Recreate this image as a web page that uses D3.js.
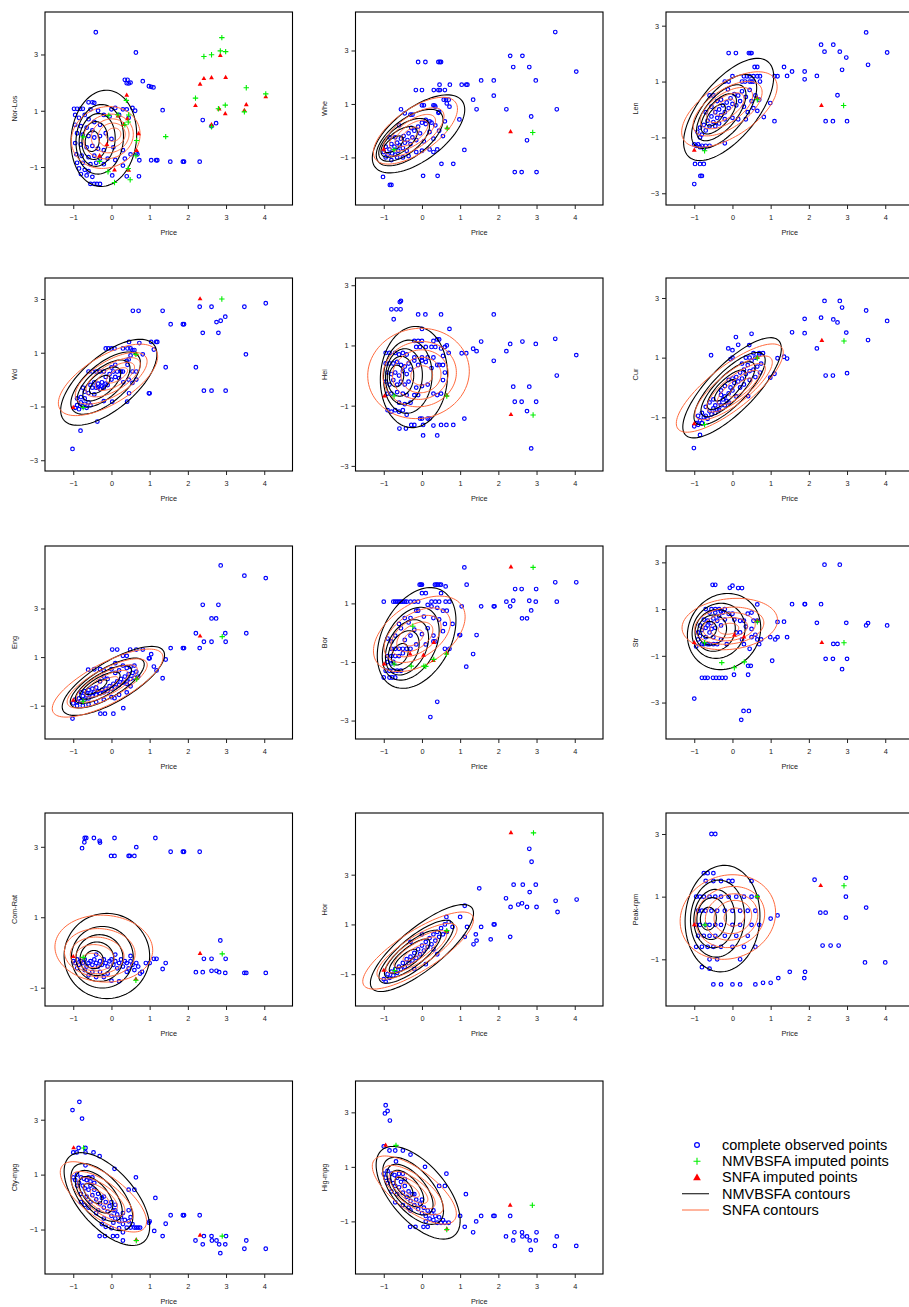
<!DOCTYPE html>
<html>
<head>
<meta charset="utf-8">
<script src="https://cdn.jsdelivr.net/npm/d3@7"></script>
<style>
  body { margin: 0; background: #fff; }
  svg text { font-family: "Liberation Sans", Arial, Helvetica, sans-serif; }
</style>
</head>
<body>
<svg id="chart" width="909" height="1307"></svg>
<script>
// ---- shared axis values ----
const xTicks = [-1, 0, 1, 2, 3, 4];
const yTickCandidates = [-3, -1, 1, 3];
const xLimit = [-1.74, 4.74];
// contour levels as fractions of peak density
const contourLevels = [0.1, 0.3, 0.5, 0.7, 0.9];

const panelNames = ["Nor-Los", "Whe", "Len", "Wd", "Hei", "Cur", "Eng", "Bor", "Str",
                    "Com-Rat", "Hor", "Peak-rpm", "Cty-mpg", "Hig-mpg"];
const yLimits = [[-2.35, 4.51], [-2.78, 4.44], [-3.42, 3.49], [-3.40, 3.78], [-3.17, 3.24],
                 [-2.8, 3.67], [-2.37, 5.57], [-3.63, 2.96], [-4.56, 3.70], [-1.52, 3.96],
                 [-2.28, 5.48], [-2.49, 3.67], [-2.62, 4.41], [-2.93, 4.15]];

// ---- Nor-Los ----
const obsNorLos = [[-0.41,3.79],[0.64,3.07],[0.35,2.1],[0.42,2.1],[0.4,1.98],[0.5,2.0],[0.45,1.97],[0.82,2.05],
  [0.98,1.87],[1.04,1.85],[1.1,1.83],[1.34,1.02],[2.39,0.67],[2.74,0.56],[2.62,0.45],
  [0.73,-0.76],[1.04,-0.76],[1.17,-0.76],[1.2,-0.76],[1.54,-0.81],[1.87,-0.81],[1.9,-0.81],[2.31,-0.81],
  [0.4,-1.33],[0.72,-1.33],[0.02,-1.3],[-0.55,-1.6],[-0.45,-1.6],[-0.38,-1.6],[-0.3,-1.6],
  [-0.98,1.07],[-0.9,1.07],[-0.82,1.07],[-0.75,1.07],[-0.6,1.3],[-0.5,1.3],[-0.45,1.28],[-0.55,1.05],[-0.35,1.0],
  [0.0,1.05],[0.1,1.1],[0.3,1.05],[0.4,1.05],[0.55,1.1],[0.62,1.0],[0.45,0.75],[0.2,0.85],[-0.2,0.85],[-0.05,0.8],
  [-0.95,0.85],[-0.85,0.75],[-0.7,0.85],[-0.6,0.7],[-0.45,0.6],[-0.3,0.5],[-0.95,0.5],[-0.8,0.45],[-0.65,0.4],[-0.5,0.3],
  [-0.9,0.2],[-0.75,0.15],[-0.6,0.1],[-0.45,0.05],[-0.3,0.1],[-0.15,0.2],[0.0,0.0],
  [-0.95,-0.15],[-0.8,-0.2],[-0.65,-0.3],[-0.5,-0.25],[-0.35,-0.35],[-0.2,-0.4],[0.05,-0.3],[0.3,-0.4],[0.5,-0.55],[0.65,-0.5],[0.68,-0.55],
  [-0.92,-0.55],[-0.78,-0.6],[-0.6,-0.65],[-0.45,-0.6],[-0.3,-0.7],[-0.1,-0.7],[0.1,-0.75],[0.35,-0.7],
  [-0.9,-0.85],[-0.75,-0.85],[-0.55,-0.9],[-0.4,-0.85],[-0.2,-0.9],[0.3,-0.95],
  [-0.85,-1.05],[-0.7,-1.1],[-0.6,-1.15],[-0.8,-1.25],[-0.65,-1.3],[-0.5,-1.35]];
const nmvNorLos = [[2.89,3.6],[2.62,2.99],[2.42,2.93],[2.85,3.13],[2.99,3.1],[3.53,1.82],[4.04,1.6],[2.2,1.45],
  [2.8,1.07],[2.98,1.2],[3.48,0.96],[2.62,0.43],[1.42,0.08],[-0.74,0.07],[0.17,0.86],[0.45,0.85],[0.44,0.6],
  [0.35,0.5],[0.66,-0.06],[0.64,-0.6],[-0.31,-0.8],[0.44,-1.05],[-0.09,-1.17],[0.08,-1.55],[0.49,-1.45],
  [-0.07,0.83],[0.39,1.37]];
const snNorLos = [[2.85,2.96],[2.42,2.14],[2.62,2.17],[2.99,2.18],[2.32,1.94],[4.04,1.49],[2.2,1.18],[2.82,1.06],
  [3.53,1.21],[3.48,1.01],[2.98,0.89],[2.62,0.5],[0.4,1.55],[0.42,0.71],[0.32,0.51],[0.71,0.18],[-0.12,-0.2],
  [-0.31,-0.6],[0.66,-0.42],[0.45,-1.12],[0.08,-1.11],[0.17,0.81]];

// ---- Whe ----
const obsWhe = [[3.49,3.69],[4.04,2.21],[2.31,2.8],[2.63,2.8],[2.39,2.38],[2.81,2.38],[2.98,1.88],[1.88,1.88],
  [1.55,1.88],[1.88,1.31],[1.34,1.16],[1.43,0.8],[2.21,0.8],[3.53,0.8],[2.86,0.53],[2.75,-0.36],[2.43,-1.55],
  [2.61,-1.55],[3.0,-1.55],[1.11,-0.72],[0.51,-1.24],[0.82,-1.24],[0.03,-1.69],[0.41,-1.69],[-1.02,-1.73],
  [-0.84,-2.03],[-0.8,-2.03],[-0.1,2.57],[0.09,2.57],[0.43,2.57],[0.47,2.57],[0.5,2.57],[0.46,1.72],[0.73,1.72],
  [1.04,1.72],[1.16,1.72],[1.19,1.72],[-0.16,1.52],[0.0,1.52],[0.31,1.52],[0.43,1.52],[0.47,1.52],[0.6,1.52],
  [0.57,1.16],[0.63,1.16],[0.65,1.02],[0.72,0.9],[0.7,1.16],[0.33,0.94],[0.43,0.67],[0.98,0.42],
  [-1.0,-0.8],[-0.95,-0.6],[-0.9,-0.9],[-0.85,-0.7],[-0.8,-0.5],[-0.78,-0.85],[-0.72,-0.6],[-0.7,-0.9],[-0.65,-0.45],
  [-0.62,-0.75],[-0.58,-0.55],[-0.55,-0.3],[-0.5,-0.65],[-0.48,-0.2],[-0.45,-0.45],[-0.4,-0.75],[-0.38,-0.35],
  [-0.35,-0.1],[-0.3,-0.5],[-0.28,0.1],[-0.25,-0.25],[-0.2,0.0],[-0.15,-0.35],[-0.1,0.15],[-0.05,-0.1],[0.0,0.3],
  [0.05,-0.4],[0.1,0.25],[0.2,-0.05],[0.25,0.3],[0.3,-0.3],[0.35,0.2],[0.4,-0.7],[0.45,0.0],[0.55,-0.2],[0.6,0.35],
  [-0.55,0.8],[-0.45,0.65],[-0.3,0.6],[-0.25,0.6],[-0.6,0.2],[-0.85,-0.25],[-0.95,-1.0],[-0.8,-1.1],[-0.65,-1.0],
  [-0.5,-1.0],[-0.35,-0.95],[-0.15,-0.8],[0.0,-0.75],[0.2,-0.7],[0.3,-0.8],[0.0,0.95],[0.05,0.95],[0.3,0.95],
  [0.35,0.9],[0.45,0.7],[0.2,0.35],[0.1,0.4],[-0.7,-0.25]];
const nmvWhe = [[2.9,-0.07],[0.66,0.09],[-0.73,-0.71]];
const snWhe = [[2.32,-0.04],[-1.0,-0.7],[0.66,0.1]];

// ---- Len ----
const obsLen = [[3.5,2.76],[4.05,2.04],[2.32,2.32],[2.64,2.32],[2.41,2.07],[2.81,2.07],[2.98,1.86],[3.55,1.6],
  [2.87,1.42],[1.35,1.52],[1.56,1.36],[1.89,1.36],[1.89,1.08],[2.21,1.2],[1.43,1.2],[1.1,1.19],[1.18,1.19],
  [2.75,0.51],[2.44,-0.42],[2.63,-0.42],[3.0,-0.42],[1.1,-0.42],[0.82,-0.27],[0.99,0.23],
  [-1.0,-2.67],[-0.84,-2.38],[-0.8,-2.38],[-0.98,-1.95],[-0.85,-1.95],[-0.75,-1.95],
  [-0.1,2.02],[0.09,2.02],[0.43,2.02],[0.47,2.02],[0.5,2.02],[0.58,1.52],[0.65,1.52],
  [0.0,1.19],[0.3,1.19],[0.38,1.19],[0.45,1.19],[0.55,1.19],[0.65,1.19],[0.72,1.19],
  [-0.2,1.0],[-0.1,1.0],[0.25,1.0],[0.33,1.0],[0.45,1.0],[0.5,1.0],[0.55,1.0],[0.72,1.0],[-0.12,0.72],[-0.2,-1.21],
  [-1.0,-1.25],[-0.95,-1.3],[-0.9,-1.25],[-0.85,-1.35],[-0.8,-1.3],[-0.75,-1.4],[-0.7,-1.3],[-0.6,-1.3],
  [-0.92,-0.8],[-0.85,-0.65],[-0.8,-0.9],[-0.75,-0.55],[-0.7,-0.75],[-0.65,-0.4],[-0.6,-0.6],[-0.55,-0.25],
  [-0.5,-0.45],[-0.45,-0.1],[-0.4,-0.3],[-0.35,0.0],[-0.3,-0.2],[-0.25,0.15],[-0.2,-0.1],[-0.15,0.25],[-0.1,0.05],
  [-0.05,0.4],[0.0,0.2],[0.05,0.55],[0.1,0.15],[0.15,0.5],[0.2,0.3],[0.25,0.65],[0.3,0.1],[0.35,0.45],[0.4,-0.1],
  [0.45,0.7],[0.5,0.3],[0.55,0.05],[0.6,0.5],[0.65,-0.05],[0.7,0.35],[-0.6,0.5],[-0.5,0.5],[-0.55,0.1],[-0.4,0.3],
  [-0.3,0.35],[-0.7,-0.1],[-0.45,-0.6],[-0.35,-0.5],[-0.2,-0.35],[0.0,-0.3],[0.15,-0.35],[0.35,-0.35],[-0.85,-1.0]];
const nmvLen = [[2.91,0.14],[0.65,0.35],[-0.73,-1.48]];
const snLen = [[2.33,0.14],[-1.0,-1.46],[0.65,0.4]];

// ---- Wd ----
const obsWd = [[2.31,2.71],[2.62,2.71],[3.48,2.71],[4.04,2.84],[0.56,2.56],[0.71,2.56],[1.34,2.56],[1.55,2.06],
  [1.87,2.06],[1.9,2.06],[2.98,2.34],[2.86,2.19],[2.75,2.14],[2.39,1.74],[2.8,1.74],[3.52,0.94],[1.42,0.46],
  [2.21,0.46],[2.42,-0.41],[2.62,-0.41],[2.99,-0.41],[0.98,-0.51],[1.0,-0.51],[1.04,1.4],[1.17,1.4],[1.2,1.4],
  [0.73,1.36],[0.46,1.4],[1.11,1.12],[0.82,0.94],[-0.15,1.16],[-0.08,1.16],[0.0,1.16],[0.08,1.16],[0.3,1.16],
  [0.42,1.16],[0.5,1.16],[0.6,1.1],[0.55,1.1],[-0.37,-1.56],[-0.81,-1.9],[-1.02,-2.58],[0.41,-0.82],[0.46,-0.51],
  [0.02,-0.82],[0.31,-0.1],[0.55,-0.12],
  [-0.95,-1.05],[-0.9,-0.95],[-0.85,-1.1],[-0.8,-0.85],[-0.75,-1.0],[-0.7,-0.9],[-0.65,-1.05],[-0.6,-0.85],
  [-0.55,-0.95],[-0.9,-0.7],[-0.8,-0.65],[-0.7,-0.7],[-0.6,-0.5],[-0.5,-0.3],[-0.45,-0.55],[-0.4,-0.3],
  [-0.35,-0.15],[-0.3,-0.35],[-0.25,-0.1],[-0.2,-0.3],[-0.15,0.1],[-0.1,-0.2],[-0.05,0.2],[0.0,0.0],[0.05,0.3],
  [0.1,0.1],[0.15,0.3],[0.2,0.05],[0.25,0.3],[0.3,0.3],[-0.6,0.3],[-0.5,0.3],[-0.4,0.3],[-0.3,0.3],[-0.2,0.3],
  [-0.55,-0.2],[-0.45,-0.1],[-0.35,-0.3],[-0.25,-0.25],[-0.15,-0.15],[-0.75,-0.3],[-0.7,-0.45],[0.0,0.45],
  [0.1,0.55],[0.4,0.7],[0.45,0.75],[0.5,0.9],[0.42,0.55],[0.55,0.3],[0.65,0.3],[0.65,0.0],[0.45,0.0],[-0.2,-0.8]];
const nmvWd = [[2.89,3.0],[0.64,0.94],[-0.74,-1.04]];
const snWd = [[2.32,3.0],[-1.0,-1.04],[0.65,0.95]];

// ---- Hei ----
const obsHei = [[-0.55,2.48],[-0.58,2.44],[-0.8,2.2],[-0.67,2.2],[-0.56,2.2],[-0.74,1.87],[-0.1,2.03],[0.09,2.03],
  [0.5,2.03],[1.88,2.03],[0.0,1.55],[0.72,1.55],[1.55,1.13],[2.31,1.05],[2.63,1.13],[2.98,1.05],[3.49,1.22],
  [4.04,0.68],[2.21,0.81],[1.34,0.89],[1.43,0.81],[1.04,0.74],[1.16,0.74],[1.88,0.49],[3.53,0.0],[2.39,-0.37],
  [2.81,-0.37],[2.43,-0.87],[2.61,-0.87],[2.99,-0.87],[2.75,-1.18],[2.86,-2.42],[1.11,-1.43],[0.5,-1.64],
  [0.64,-1.64],[0.82,-1.64],[0.3,-1.66],[0.03,-1.64],[-0.2,-1.64],[-0.28,-1.64],[-0.59,-1.76],[-0.42,-1.76],
  [0.03,-1.99],[0.4,-1.99],[-0.05,-1.43],[0.0,-1.43],[0.15,-1.43],[0.2,-1.43],
  [-0.95,0.75],[-0.85,0.75],[-0.7,0.75],[-0.6,0.7],[-0.5,0.75],[-0.4,0.7],[-0.95,0.4],[-0.85,0.4],[-0.75,0.4],
  [-0.65,0.45],[-0.55,0.35],[-0.45,0.3],[-0.35,0.4],[-0.9,0.1],[-0.8,0.05],[-0.7,0.1],[-0.6,0.0],[-0.5,0.15],
  [-0.4,0.05],[-0.3,0.2],[-0.95,-0.2],[-0.85,-0.3],[-0.75,-0.15],[-0.65,-0.3],[-0.55,-0.2],[-0.45,-0.3],
  [-0.35,-0.2],[-0.9,-0.6],[-0.8,-0.6],[-0.65,-0.55],[-0.5,-0.6],[-0.4,-0.65],[-0.2,-0.65],[-0.1,-0.65],
  [-0.9,-1.15],[-0.8,-1.2],[-0.7,-1.15],[-0.6,-1.2],[-0.5,-1.15],[-0.4,-1.3],[-0.6,-0.9],[-0.45,-0.95],
  [-0.3,-0.9],[-0.15,-0.4],[0.0,-0.35],[0.15,-0.3],[0.3,-0.6],[0.4,-0.65],[0.5,-0.6],[-0.1,0.35],[0.0,0.5],
  [0.1,0.45],[-0.2,0.5],[0.25,0.25],[0.4,0.35],[0.45,0.35],[0.55,0.35],[0.6,0.1],[0.55,-0.15],[-0.2,1.15],
  [-0.1,1.15],[0.0,1.15],[0.3,1.15],[0.4,1.2],[0.45,1.2],[-0.15,0.95],[-0.05,0.95],[0.1,0.95],[0.25,0.95],
  [0.35,0.95],[0.5,0.9],[0.6,0.95],[0.65,1.0],[0.7,0.75],[0.0,0.6],[0.15,0.6],[0.55,0.65],[-0.2,0.6],[0.3,0.6]];
const nmvHei = [[2.91,-1.31],[-0.73,-0.68],[0.65,-0.68]];
const snHei = [[2.33,-1.3],[-0.98,-0.68],[0.65,-0.66]];

// ---- Cur ----
const obsCur = [[2.41,2.9],[2.81,2.9],[2.87,2.68],[3.5,2.58],[4.05,2.23],[1.89,2.3],[2.32,2.34],[2.64,2.28],
  [2.75,2.18],[1.56,1.85],[1.89,1.82],[2.98,1.84],[3.55,1.59],[2.21,1.31],[2.44,0.4],[2.63,0.4],[3.0,0.48],
  [1.35,1.03],[1.43,0.97],[1.18,0.98],[1.1,0.46],[0.99,0.33],[0.5,1.8],[0.09,1.69],[0.15,1.43],[0.44,1.42],
  [-0.11,1.31],[0.0,1.25],[-0.56,1.08],[-1.01,-2.03],[-0.85,-1.59],[0.41,-0.29],
  [-1.0,-1.3],[-0.95,-1.2],[-0.9,-1.25],[-0.85,-1.1],[-0.8,-1.2],[-0.75,-1.0],[-0.7,-0.95],[-0.65,-1.05],
  [-0.6,-0.8],[-0.55,-0.9],[-0.5,-0.7],[-0.45,-0.6],[-0.4,-0.75],[-0.35,-0.5],[-0.3,-0.6],[-0.25,-0.4],
  [-0.2,-0.3],[-0.15,-0.45],[-0.1,-0.2],[-0.05,0.0],[0.0,-0.1],[0.05,0.15],[0.1,0.35],[0.15,0.2],[0.2,0.5],
  [0.25,0.3],[0.3,0.6],[0.35,0.45],[0.4,0.75],[0.45,0.55],[0.5,0.9],[0.55,0.6],[0.6,1.0],[0.65,0.7],[0.7,1.1],
  [0.75,0.8],[-0.6,-0.5],[-0.5,-0.4],[-0.45,-0.85],[-0.35,-0.75],[-0.3,-0.25],[-0.2,-0.6],[-0.1,-0.5],[0.0,0.3],
  [-0.1,0.25],[-0.2,0.05],[-0.3,-0.1],[0.2,0.0],[0.3,0.1],[0.1,-0.3],[-0.7,-0.65],[-0.8,-0.85],[-0.9,-0.95],
  [0.8,1.15],[0.7,1.15],[0.45,1.0],[0.35,1.0],[-0.05,0.95],[0.0,1.0],[0.25,0.8],[0.55,1.15],[0.45,0.25],
  [0.6,0.35],[0.72,0.5]];
const nmvCur = [[2.92,1.56],[0.65,0.99],[-0.73,-1.24]];
const snCur = [[2.34,1.57],[-1.0,-1.22],[0.65,1.0]];

// ---- Eng ----
const obsEng = [[2.86,4.77],[3.48,4.35],[4.04,4.25],[2.39,3.15],[2.8,3.15],[2.62,2.59],[2.74,2.59],[2.21,1.98],
  [2.98,1.98],[3.53,1.98],[2.42,1.63],[2.62,1.63],[2.99,1.63],[2.31,1.37],[1.55,1.37],[1.87,1.37],[1.9,1.37],
  [0.02,1.31],[0.15,1.31],[0.49,1.31],[0.65,1.31],[0.82,1.31],[1.04,1.12],[0.3,1.05],[0.4,1.05],[0.98,0.95],
  [1.0,0.95],[1.42,0.9],[1.11,0.61],[1.18,0.45],[1.34,0.13],[0.08,-0.69],[0.31,-1.1],[-0.29,-1.33],[-0.17,-1.33],
  [0.05,-1.33],[-1.02,-1.53],
  [-1.0,-0.9],[-0.95,-0.75],[-0.9,-0.85],[-0.85,-0.7],[-0.8,-0.8],[-0.75,-0.6],[-0.7,-0.75],[-0.65,-0.55],
  [-0.6,-0.7],[-0.55,-0.5],[-0.5,-0.6],[-0.45,-0.45],[-0.4,-0.55],[-0.35,-0.4],[-0.3,-0.5],[-0.25,-0.35],
  [-0.2,-0.45],[-0.15,-0.3],[-0.1,-0.4],[-0.05,-0.2],[0.0,-0.3],[0.05,-0.1],[0.1,-0.25],[0.15,0.0],[0.2,-0.15],
  [0.25,0.1],[0.3,-0.05],[0.35,0.2],[0.4,0.0],[0.45,0.3],[0.5,0.1],[0.55,0.35],[0.6,0.15],[0.65,0.4],[0.7,0.2],
  [-0.8,-0.45],[-0.7,-0.4],[-0.6,-0.35],[-0.5,-0.3],[-0.4,-0.25],[-0.9,-1.0],[-0.75,-1.0],[-0.6,-0.95],
  [-0.4,-0.85],[-0.2,-0.75],[0.0,-0.65],[0.2,-0.55],[0.4,-0.45],[-0.3,0.0],[-0.1,0.1],[0.1,0.35],[0.2,0.45],
  [-0.2,0.2],[0.0,0.5],[0.4,0.55],[0.5,0.6],[0.6,0.65],[0.3,0.65],[0.1,0.75],[-0.2,0.45],[-0.45,0.5],[-0.3,0.5],
  [-0.61,0.48],[0.4,-0.1],[0.5,-0.2]];
const nmvEng = [[2.9,1.84],[0.66,0.1],[-0.74,-0.82]];
const snEng = [[2.32,1.86],[-1.0,-0.78],[0.66,0.12]];

// ---- Bor ----
const obsBor = [[1.11,2.23],[3.49,1.72],[4.04,1.72],[2.44,1.49],[2.61,1.49],[2.99,1.49],[1.17,1.64],[2.21,1.06],
  [2.39,1.09],[2.81,1.09],[2.98,1.06],[3.53,1.06],[2.31,0.9],[1.55,0.9],[1.88,0.9],[1.9,0.9],[2.86,0.76],
  [2.62,0.49],[2.75,0.49],[1.04,0.9],[0.98,-0.08],[1.0,-0.08],[1.43,-0.08],[1.34,-0.73],[1.16,-1.16],
  [0.4,-2.36],[0.22,-2.88],
  [-1.0,1.06],[-0.75,1.06],[-0.7,1.06],[-0.65,1.06],[-0.6,1.06],[-0.55,1.06],[-0.5,1.06],[-0.45,1.06],
  [-0.4,1.06],[-0.3,1.06],[-0.2,1.06],[-0.1,1.06],[0.25,1.06],[0.35,1.06],[0.45,1.06],[0.62,1.06],[0.72,1.06],
  [-0.06,1.64],[-0.03,1.64],[0.0,1.64],[0.34,1.64],[0.38,1.64],[0.41,1.64],[0.46,1.64],[0.5,1.64],[0.62,1.58],
  [0.0,1.35],[0.1,1.35],[0.5,1.35],[0.15,0.95],[0.25,0.9],[0.4,0.85],[-0.15,0.75],[-0.1,0.75],[0.55,0.75],
  [0.65,0.75],[-0.45,0.5],[-0.3,0.5],[0.05,0.55],[0.3,0.5],[0.45,0.45],[0.6,0.3],[0.8,0.3],[-0.6,0.3],
  [-0.55,0.15],[-0.35,0.35],[-0.2,0.1],[-0.3,-0.1],[0.0,-0.05],[0.3,-0.1],[0.35,-0.3],[0.55,0.05],[-0.9,-0.2],
  [-0.8,-0.3],[-0.7,-0.1],[-0.45,-0.25],[-0.15,-0.4],[0.1,-0.4],[0.15,0.15],[-0.8,-0.55],[-0.7,-0.55],
  [-0.6,-0.55],[-0.5,-0.55],[-0.4,-0.55],[-0.3,-0.55],[0.6,-0.55],[0.72,-0.55],[-0.9,-0.8],[-0.8,-0.8],
  [-0.7,-0.8],[-0.6,-0.8],[-0.5,-0.7],[-0.9,-1.0],[-0.8,-1.05],[-0.75,-1.0],[-0.95,-1.3],[-0.85,-1.3],
  [-0.75,-1.3],[-0.65,-1.3],[-0.55,-1.3],[-1.0,-1.53],[-0.85,-1.53],[-0.78,-1.53],[-0.7,-1.53],[0.3,-0.3]];
const nmvBor = [[2.91,2.23],[0.64,-0.73],[-0.73,-1.07],[-0.28,-1.14],[0.05,-1.14],[0.31,-0.91],[-0.24,0.22],[0.1,-1.15]];
const snBor = [[2.33,2.24],[-0.99,-1.07],[-0.31,-0.73],[0.04,-0.77],[0.31,-0.34],[0.65,-0.7],[0.3,-0.95]];

// ---- Str ----
const obsStr = [[2.41,2.9],[2.81,2.9],[-0.52,2.04],[-0.45,2.04],[-0.07,1.91],[0.0,2.0],[0.15,1.9],[0.25,1.9],
  [1.56,1.21],[1.89,1.21],[1.9,1.21],[2.32,1.21],[2.21,0.41],[2.98,0.41],[3.5,0.3],[3.55,0.4],[4.05,0.3],
  [1.18,0.45],[1.35,0.46],[1.43,-0.2],[0.99,-0.2],[1.18,-0.2],[1.12,-0.3],[2.64,-0.49],[2.75,-0.49],[2.44,-1.13],
  [2.63,-1.13],[3.0,-1.13],[2.87,-1.57],[1.04,-1.21],[0.41,-1.43],[0.48,-1.43],[0.41,-1.81],[0.04,-1.81],
  [-0.8,-1.94],[-0.72,-1.94],[-0.65,-1.94],[-0.51,-1.94],[-0.43,-1.94],[-0.35,-1.94],[-0.27,-1.94],[-0.18,-1.94],
  [-1.0,-2.83],[0.29,-3.36],[0.43,-3.36],[0.23,-3.74],
  [-0.95,-0.6],[-0.9,-0.3],[-0.9,0.0],[-0.85,0.3],[-0.8,-0.5],[-0.75,0.55],[-0.7,-0.2],[-0.7,0.2],[-0.65,0.5],
  [-0.6,-0.5],[-0.6,0.0],[-0.55,0.4],[-0.5,0.6],[-0.5,-0.2],[-0.45,0.2],[-0.4,0.5],[-0.4,-0.5],[-0.35,0.7],
  [-0.3,0.3],[-0.25,0.85],[-0.2,0.55],[-0.15,-0.5],[-0.1,0.8],[0.0,0.8],[0.05,0.55],[0.1,0.0],[0.2,0.0],
  [-0.6,0.85],[-0.45,0.85],[-0.3,0.9],[-0.7,1.0],[-0.55,1.0],[-0.45,1.0],[-0.35,1.0],[-0.2,1.0],[-0.85,-0.15],
  [-0.8,0.1],[-0.65,0.3],[-0.55,0.15],[-0.75,-0.5],[-0.65,-0.5],[-0.5,-0.5],[-0.3,-0.3],[0.2,0.5],[0.3,0.5],
  [0.4,0.8],[0.5,0.85],[0.55,0.5],[0.65,0.5],[0.5,0.15],[0.6,-0.1],[0.65,-0.3],[0.35,0.25],[0.25,-0.3],
  [0.3,-0.5],[0.7,-0.5],[0.65,1.2],[0.75,-0.3],[0.5,-0.2],[0.45,-0.7]];
const nmvStr = [[2.92,-0.44],[-0.73,-0.44],[0.65,0.46],[-0.28,-1.29],[0.05,-1.51],[0.31,-1.26]];
const snStr = [[2.34,-0.44],[-1.0,-0.44],[0.05,-0.11],[0.3,-0.2],[0.65,0.5]];

// ---- Com-Rat ----
const obsComRat = [[-0.66,3.25],[-0.7,3.25],[-0.71,3.13],[-0.46,3.25],[-0.31,3.17],[-0.3,3.12],[0.08,3.25],
  [1.15,3.25],[-0.77,2.96],[0.65,2.99],[-0.01,2.74],[0.08,2.74],[0.45,2.74],[0.48,2.74],[0.6,2.74],[1.55,2.86],
  [1.87,2.86],[1.9,2.86],[2.31,2.86],[2.85,0.34],[2.42,-0.18],[2.62,-0.18],[2.99,-0.18],[2.21,-0.56],[2.39,-0.56],
  [2.62,-0.52],[2.75,-0.52],[2.82,-0.56],[2.98,-0.58],[3.48,-0.58],[3.53,-0.58],[4.04,-0.58],[1.34,-0.47],
  [1.42,-0.3],[1.11,-0.18],[1.18,-0.18],
  [-1.0,-0.25],[-0.95,-0.3],[-0.9,-0.2],[-0.85,-0.35],[-0.8,-0.25],[-0.75,-0.3],[-0.7,-0.2],[-0.65,-0.4],
  [-0.6,-0.3],[-0.55,-0.25],[-0.5,-0.35],[-0.45,-0.2],[-0.4,-0.3],[-0.35,-0.4],[-0.3,-0.25],[-0.25,-0.35],
  [-0.2,-0.2],[-0.15,-0.3],[-0.1,-0.4],[-0.05,-0.25],[0.0,-0.2],[0.05,-0.35],[0.1,-0.25],[0.15,-0.45],[0.2,-0.3],
  [0.25,-0.2],[0.3,-0.4],[0.35,-0.25],[0.4,-0.3],[0.45,-0.45],[0.5,-0.25],[0.55,-0.35],[0.6,-0.5],[0.65,-0.3],
  [0.7,-0.4],[0.75,-0.6],[0.8,-0.55],[0.9,-0.3],[1.0,-0.3],[-0.9,-0.45],[-0.7,-0.5],[-0.5,-0.55],[-0.3,-0.55],
  [-0.1,-0.6],[-0.6,-0.65],[-0.4,-0.7],[-0.2,-0.7],[0.0,-0.8],[0.2,-0.82],[0.4,-0.55],[-0.4,-0.06],[0.1,-0.06],
  [0.5,-0.1]];
const nmvComRat = [[2.9,-0.04],[-0.74,-0.14],[0.64,-0.79]];
const snComRat = [[2.32,-0.03],[-1.0,-0.12],[0.64,-0.76]];

// ---- Hor ----
const obsHor = [[2.81,4.04],[2.87,3.52],[2.2,2.05],[2.32,1.7],[2.4,2.6],[2.52,1.8],[2.62,1.85],[2.64,2.6],
  [2.75,1.7],[2.82,2.3],[2.98,2.6],[3.0,1.7],[3.5,1.95],[3.55,1.5],[4.05,2.0],[2.31,0.5],[1.88,1.0],[1.9,1.0],
  [1.55,0.9],[1.41,0.6],[1.8,0.4],[1.5,2.45],[1.12,1.75],[1.35,0.2],[1.43,0.35],[1.12,0.5],[1.18,0.9],[1.0,1.3],
  [-1.0,-1.2],[-0.95,-1.3],[-0.9,-1.0],[-0.85,-1.15],[-0.8,-0.9],[-0.75,-1.05],[-0.7,-0.8],[-0.65,-0.95],
  [-0.6,-0.7],[-0.55,-0.8],[-0.5,-0.55],[-0.45,-0.7],[-0.4,-0.4],[-0.35,-0.55],[-0.3,-0.3],[-0.25,-0.45],
  [-0.2,-0.15],[-0.15,-0.35],[-0.1,0.0],[-0.05,-0.2],[0.0,0.15],[0.05,-0.05],[0.1,0.3],[0.15,0.1],[0.2,0.45],
  [0.25,0.2],[0.3,0.6],[0.35,0.35],[0.4,0.7],[0.45,0.5],[0.5,0.85],[0.55,0.6],[0.6,1.0],[0.65,0.7],[0.7,1.1],
  [0.8,0.9],[0.1,-0.6],[-0.2,-0.8],[0.3,0.0],[0.4,-0.2],[0.0,0.6],[-0.3,0.3],[0.64,1.3]];
const nmvHor = [[2.92,4.68],[-0.72,-0.85],[0.65,0.75]];
const snHor = [[2.33,4.68],[-1.0,-0.85],[0.65,0.72]];

// ---- Peak-rpm ----
const obsPeak = [[-0.55,3.0],[-0.45,3.0],[-0.75,1.75],[-0.65,1.75],[-0.5,1.75],[-0.7,1.5],[-0.5,1.5],[-0.3,1.5],
  [-0.1,1.5],[0.0,1.5],[0.5,1.5],[2.15,1.54],[2.97,1.6],[2.97,1.0],[3.5,0.65],[2.44,0.49],[2.3,0.49],
  [2.97,0.33],[2.36,-0.56],[2.57,-0.56],[2.78,-0.56],[3.47,-1.1],[4.0,-1.1],[1.9,-1.4],[1.5,-1.4],
  [1.88,-1.6],[1.2,-1.6],[1.0,-1.75],[0.8,-1.75],[0.6,-1.8],[0.2,-1.8],[0.0,-1.8],
  [-0.3,-1.8],[-0.5,-1.8],[-0.8,-1.25],[-0.6,-1.3],
  [-0.95,1.0],[-0.85,1.0],[-0.75,1.0],[-0.6,1.0],[-0.45,1.0],[-0.3,1.0],[-0.1,1.0],[0.1,1.0],[0.3,1.0],
  [0.5,1.0],[0.65,1.0],[-0.9,0.55],[-0.8,0.55],[-0.7,0.55],[-0.55,0.55],[-0.4,0.55],[-0.2,0.55],[0.0,0.55],
  [0.2,0.55],[0.4,0.55],[0.6,0.55],[-0.95,0.1],[-0.85,0.1],[-0.7,0.1],[-0.6,0.1],[-0.45,0.1],[-0.3,0.1],
  [0.0,0.1],[0.2,0.1],[0.5,0.1],[0.7,0.1],[-0.9,-0.25],[-0.75,-0.25],[-0.6,-0.25],[-0.45,-0.25],[-0.2,-0.25],
  [0.1,-0.25],[0.4,-0.25],[-0.95,-0.6],[-0.8,-0.6],[-0.65,-0.6],[-0.5,-0.6],[-0.3,-0.6],[0.0,-0.6],[0.3,-0.6],
  [0.6,-0.6],[-0.6,-1.0],[-0.4,-1.0],[0.2,-1.0],[1.0,0.3],[1.18,0.4]];
const nmvPeak = [[2.92,1.35],[-0.72,0.1],[0.65,1.0]];
const snPeak = [[2.31,1.35],[-1.0,0.1],[0.65,1.0]];

// ---- Cty-mpg ----
const obsCty = [[-0.84,3.65],[-1.02,3.35],[-0.77,3.04],[-0.86,1.97],[-0.68,1.97],[-1.0,1.81],[-0.91,1.81],
  [-0.68,1.81],[-0.47,1.81],[-0.31,1.67],[-0.68,1.34],[0.08,1.21],[0.64,0.9],[0.6,0.45],[0.45,0.45],[1.15,0.15],
  [1.55,-0.48],[1.87,-0.48],[1.9,-0.48],[2.31,-0.48],[1.42,-0.79],[1.0,-0.7],[0.98,-0.75],[1.12,-1.05],
  [1.34,-1.24],[2.42,-1.24],[2.62,-1.24],[3.0,-1.24],[2.2,-1.4],[2.63,-1.4],[2.75,-1.4],[2.39,-1.54],
  [2.82,-1.54],[2.98,-1.54],[3.53,-1.4],[3.48,-1.7],[4.04,-1.7],[2.85,-1.86],[-0.31,-1.24],[-0.17,-1.24],
  [0.04,-1.24],[0.15,-1.24],[0.3,-1.4],
  [-1.0,0.9],[-0.95,0.8],[-0.9,1.0],[-0.85,0.7],[-0.8,0.9],[-0.75,0.6],[-0.72,0.85],[-0.7,0.5],[-0.65,0.8],
  [-0.6,0.45],[-0.55,0.6],[-0.5,0.25],[-0.45,0.45],[-0.4,0.1],[-0.35,0.3],[-0.3,-0.05],[-0.25,0.15],
  [-0.2,-0.2],[-0.15,0.0],[-0.1,-0.35],[-0.05,-0.15],[0.0,-0.5],[0.05,-0.3],[0.1,-0.6],[0.15,-0.45],
  [0.2,-0.7],[0.25,-0.55],[0.3,-0.8],[0.35,-0.65],[0.4,-0.93],[0.45,-0.7],[0.5,-0.93],[0.55,-0.8],[0.6,-0.93],
  [0.65,-0.93],[0.7,-0.93],[0.75,-0.93],[-0.6,0.9],[-0.5,0.9],[-0.55,0.75],[-0.45,0.7],[-0.65,0.2],[-0.55,0.0],
  [-0.8,0.3],[-0.9,0.6],[-0.35,-0.3],[-0.2,0.2],[0.0,0.0],[0.1,-0.1],[-0.8,0.0],[-0.7,-0.1],[-0.6,-0.2],
  [-0.4,-0.4],[-0.2,-0.6],[0.05,-0.75],[0.1,-0.3],[0.3,-0.4],[0.45,-0.3],[0.5,-0.55],[-0.25,-0.8],
  [-0.15,-0.9],[0.0,-0.95],[0.2,-0.95],[0.3,-1.1]];
const nmvCty = [[-0.73,1.97],[0.65,-1.4],[2.9,-1.24]];
const snCty = [[-0.99,1.97],[2.32,-1.21],[0.65,-1.38]];

// ---- Hig-mpg ----
const obsHig = [[-0.95,3.26],[-0.9,3.05],[-0.97,2.96],[-0.84,2.7],[-1.0,1.75],[-0.85,1.6],[-0.7,1.6],
  [-0.5,1.6],[-0.3,1.45],[-0.68,1.2],[0.08,1.0],[0.64,0.75],[0.6,0.3],[0.45,0.3],[1.15,0.0],[1.55,-0.8],
  [1.87,-0.8],[1.9,-0.8],[2.31,-0.8],[1.42,-1.0],[1.0,-0.8],[1.12,-1.2],[1.34,-1.4],[2.42,-1.4],[2.62,-1.4],
  [3.0,-1.4],[2.2,-1.55],[2.63,-1.55],[2.75,-1.55],[2.39,-1.7],[2.82,-1.7],[2.98,-1.7],[3.53,-1.55],
  [3.48,-1.9],[4.04,-1.9],[2.85,-2.05],[-0.31,-1.2],[-0.17,-1.2],[0.04,-1.2],[0.15,-1.2],
  [-1.0,0.75],[-0.95,0.6],[-0.9,0.85],[-0.85,0.5],[-0.8,0.75],[-0.75,0.4],[-0.72,0.7],[-0.7,0.3],[-0.65,0.6],
  [-0.6,0.25],[-0.55,0.45],[-0.5,0.05],[-0.45,0.3],[-0.4,-0.1],[-0.35,0.1],[-0.3,-0.25],[-0.25,0.0],
  [-0.2,-0.4],[-0.15,-0.2],[-0.1,-0.55],[-0.05,-0.35],[0.0,-0.7],[0.05,-0.5],[0.1,-0.8],[0.15,-0.6],
  [0.2,-0.9],[0.25,-0.7],[0.3,-0.95],[0.35,-0.8],[0.4,-1.05],[0.45,-0.85],[0.5,-1.05],[0.55,-0.95],
  [0.6,-1.05],[0.7,-1.05],[-0.6,0.75],[-0.5,0.75],[-0.45,0.55],[-0.65,0.0],[-0.8,0.1],[-0.9,0.4],
  [-0.35,-0.5],[-0.2,0.0],[0.0,-0.2],[-0.7,-0.3],[-0.5,-0.4],[-0.3,-0.6],[0.1,-1.0],[0.3,-0.6]];
const nmvHig = [[-0.68,1.79],[0.65,-1.3],[2.89,-0.41]];
const snHig = [[-0.95,1.79],[2.31,-0.41],[0.65,-1.28]];

// ---- fitted contour parameters (outer-ring centre, outer half-extent, correlation, skew shift) ----
const nmvContours = [
  { c: [-0.2, 0.02], h: [0.86, 1.71], rho: 0.08, skew: [0.18, 0.06] },
  { c: [-0.09, -0.12], h: [1.21, 1.46], rho: 0.62, skew: [0.39, 0.23] },
  { c: [-0.1, 0.0], h: [1.18, 1.83], rho: 0.64, skew: [0.2, 0.12] },
  { c: [-0.07, -0.1], h: [1.26, 1.6], rho: 0.65, skew: [0.14, 0.05] },
  { c: [-0.21, -0.05], h: [0.88, 1.68], rho: 0.05, skew: [0.27, -0.02] },
  { c: [-0.01, -0.01], h: [1.29, 1.68], rho: 0.78, skew: [0.11, 0.05] },
  { c: [0.05, 0.02], h: [1.34, 1.42], rho: 0.75, skew: [0.27, 0.15] },
  { c: [-0.14, -0.18], h: [1.03, 1.72], rho: 0.35, skew: [0.26, 0.33] },
  { c: [-0.22, 0.04], h: [0.96, 1.63], rho: 0.1, skew: [0.24, -0.05] },
  { c: [-0.12, -0.1], h: [1.12, 1.21], rho: 0.0, skew: [0.2, 0.06] },
  { c: [0.0, 0.05], h: [1.35, 1.75], rho: 0.8, skew: [0.25, 0.25] },
  { c: [-0.26, 0.3], h: [0.98, 1.7], rho: 0.05, skew: [0.22, 0.0] },
  { c: [-0.12, 0.11], h: [1.12, 1.69], rho: -0.6, skew: [0.22, -0.12] },
  { c: [-0.1, 0.05], h: [1.1, 1.7], rho: -0.6, skew: [0.22, -0.12] }
];
const snContours = [
  { c: [-0.15, 0.05], h: [0.9, 1.1], rho: 0.1, skew: [-0.12, -0.06] },
  { c: [-0.17, 0.0], h: [1.1, 1.25], rho: 0.65, skew: [0.08, 0.08] },
  { c: [-0.08, 0.0], h: [1.25, 1.35], rho: 0.6, skew: [0.08, -0.05] },
  { c: [-0.09, -0.01], h: [1.3, 1.33], rho: 0.65, skew: [-0.14, -0.1] },
  { c: [-0.09, 0.07], h: [1.33, 1.5], rho: 0.05, skew: [-0.05, 0.04] },
  { c: [-0.07, -0.02], h: [1.4, 1.48], rho: 0.8, skew: [-0.17, -0.01] },
  { c: [-0.1, -0.07], h: [1.45, 1.4], rho: 0.75, skew: [0.02, 0.02] },
  { c: [-0.07, -0.04], h: [1.2, 1.29], rho: 0.45, skew: [0.09, 0.08] },
  { c: [-0.07, 0.36], h: [1.25, 1.1], rho: 0.15, skew: [0.02, 0.12] },
  { c: [-0.2, 0.11], h: [1.28, 0.95], rho: -0.05, skew: [0.18, 0.2] },
  { c: [-0.1, -0.05], h: [1.45, 1.55], rho: 0.8, skew: [0.05, 0.05] },
  { c: [-0.12, 0.35], h: [1.25, 1.35], rho: 0.1, skew: [-0.1, 0.0] },
  { c: [-0.21, 0.19], h: [1.13, 1.28], rho: -0.7, skew: [0.06, 0.0] },
  { c: [-0.2, 0.15], h: [1.1, 1.25], rho: -0.7, skew: [0.06, 0.0] }
];

const obsSets = [obsNorLos, obsWhe, obsLen, obsWd, obsHei, obsCur, obsEng, obsBor, obsStr, obsComRat, obsHor, obsPeak, obsCty, obsHig];
const nmvSets = [nmvNorLos, nmvWhe, nmvLen, nmvWd, nmvHei, nmvCur, nmvEng, nmvBor, nmvStr, nmvComRat, nmvHor, nmvPeak, nmvCty, nmvHig];
const snSets = [snNorLos, snWhe, snLen, snWd, snHei, snCur, snEng, snBor, snStr, snComRat, snHor, snPeak, snCty, snHig];

const legendLabels = ["complete observed points", "NMVBSFA imputed points", "SNFA imputed points",
                      "NMVBSFA contours", "SNFA contours"];

// ---- layout ----
const COLOR_OBS = "#0000ff", COLOR_NMV = "#00ee00", COLOR_SN = "#ff0000";
const COLOR_NMV_LINE = "#000000", COLOR_SN_LINE = "#ff6a3d";
const colLeft = [45, 355.5, 666];
const rowTop = [12, 278, 546, 813, 1081];
const boxW = 247.5, boxH = 193;

const svg = d3.select("#chart");
const fmt = d => (d < 0 ? "\u2212" + Math.abs(d) : String(d));
const radii = contourLevels.map(p => Math.sqrt(-2 * Math.log(p)));
const rMax = d3.max(radii);

function ring(par, r) {
  const s = r / rMax;
  const cx = par.c[0] + par.skew[0] * (r - rMax);
  const cy = par.c[1] + par.skew[1] * (r - rMax);
  const q = Math.sqrt(1 - par.rho * par.rho);
  return d3.range(0, 96).map(i => {
    const t = (i / 96) * 2 * Math.PI;
    return [cx + par.h[0] * s * Math.cos(t),
            cy + par.h[1] * s * (par.rho * Math.cos(t) + q * Math.sin(t))];
  });
}

panelNames.forEach((name, i) => {
  const left = colLeft[i % 3], top = rowTop[Math.floor(i / 3)];
  const g = svg.append("g").attr("transform", `translate(${left},${top})`);
  const x = d3.scaleLinear().domain(xLimit).range([0, boxW]);
  const y = d3.scaleLinear().domain(yLimits[i]).range([boxH, 0]);

  g.append("clipPath").attr("id", "clip" + i)
    .append("rect").attr("width", boxW).attr("height", boxH);
  const plot = g.append("g").attr("clip-path", `url(#clip${i})`);

  const line = d3.line().x(d => x(d[0])).y(d => y(d[1])).curve(d3.curveLinearClosed);

  // observed points
  plot.selectAll("circle.obs").data(obsSets[i]).join("circle")
    .attr("class", "obs")
    .attr("cx", d => x(d[0])).attr("cy", d => y(d[1])).attr("r", 1.8)
    .attr("fill", "none").attr("stroke", COLOR_OBS).attr("stroke-width", 1.2);

  // contours
  radii.forEach(r => {
    plot.append("path").attr("d", line(ring(nmvContours[i], r)))
      .attr("fill", "none").attr("stroke", COLOR_NMV_LINE).attr("stroke-width", 1.1);
  });
  radii.forEach(r => {
    plot.append("path").attr("d", line(ring(snContours[i], r)))
      .attr("fill", "none").attr("stroke", COLOR_SN_LINE).attr("stroke-width", 1);
  });

  // SNFA imputed (red triangles)
  const tri = d3.symbol().type(d3.symbolTriangle).size(10);
  plot.selectAll("path.sn").data(snSets[i]).join("path")
    .attr("class", "sn").attr("d", tri)
    .attr("transform", d => `translate(${x(d[0])},${y(d[1])})`)
    .attr("fill", COLOR_SN);

  // NMVBSFA imputed (green plus)
  plot.selectAll("path.nmv").data(nmvSets[i]).join("path")
    .attr("class", "nmv")
    .attr("d", d => `M${x(d[0]) - 2.7},${y(d[1])}h5.4M${x(d[0])},${y(d[1]) - 2.7}v5.4`)
    .attr("stroke", COLOR_NMV).attr("stroke-width", 1.1).attr("fill", "none");

  // box
  g.append("rect").attr("width", boxW).attr("height", boxH)
    .attr("fill", "none").attr("stroke", "#000").attr("stroke-width", 1.1);

  // axes
  const ax = g.append("g").attr("transform", `translate(0,${boxH})`)
    .call(d3.axisBottom(x).tickValues(xTicks).tickSize(4).tickPadding(5.5).tickFormat(fmt));
  const yt = yTickCandidates.filter(v => v >= yLimits[i][0] && v <= yLimits[i][1]);
  const ay = g.append("g")
    .call(d3.axisLeft(y).tickValues(yt).tickSize(4).tickPadding(3).tickFormat(fmt));
  [ax, ay].forEach(a => {
    a.select(".domain").remove();
    a.selectAll("text").attr("font-size", 7.3).attr("fill", "#222")
      .style("font-family", "'Liberation Sans', Arial, sans-serif");
    a.selectAll("line").attr("stroke", "#222");
  });

  g.append("text").attr("x", boxW / 2).attr("y", boxH + 30)
    .attr("text-anchor", "middle").attr("font-size", 7.3).attr("fill", "#222").text("Price");
  g.append("text").attr("transform", `translate(-28.5,${boxH / 2}) rotate(-90)`)
    .attr("text-anchor", "middle").attr("font-size", 7.3).attr("fill", "#222").text(name);
});

// ---- legend ----
const lg = svg.append("g");
const rowY = d3.scaleLinear().domain([0, 4]).range([1145, 1210]);
legendLabels.forEach((lab, k) => {
  const cy = rowY(k);
  if (k === 0) lg.append("circle").attr("cx", 697).attr("cy", cy).attr("r", 2.4)
    .attr("fill", "none").attr("stroke", COLOR_OBS).attr("stroke-width", 1.2);
  if (k === 1) lg.append("path").attr("d", `M693.5,${cy}h7M697,${cy - 3.5}v7`)
    .attr("stroke", COLOR_NMV).attr("stroke-width", 1.1);
  if (k === 2) lg.append("path").attr("d", d3.symbol().type(d3.symbolTriangle).size(26))
    .attr("transform", `translate(697,${cy + 0.5})`).attr("fill", COLOR_SN);
  if (k === 3) lg.append("line").attr("x1", 682).attr("x2", 709).attr("y1", cy).attr("y2", cy)
    .attr("stroke", COLOR_NMV_LINE).attr("stroke-width", 1);
  if (k === 4) lg.append("line").attr("x1", 682).attr("x2", 709).attr("y1", cy).attr("y2", cy)
    .attr("stroke", COLOR_SN_LINE).attr("stroke-width", 1);
  lg.append("text").attr("x", 722).attr("y", cy + 4.8).attr("font-size", 14.5)
    .attr("fill", "#000").text(lab);
});
</script>
</body>
</html>
